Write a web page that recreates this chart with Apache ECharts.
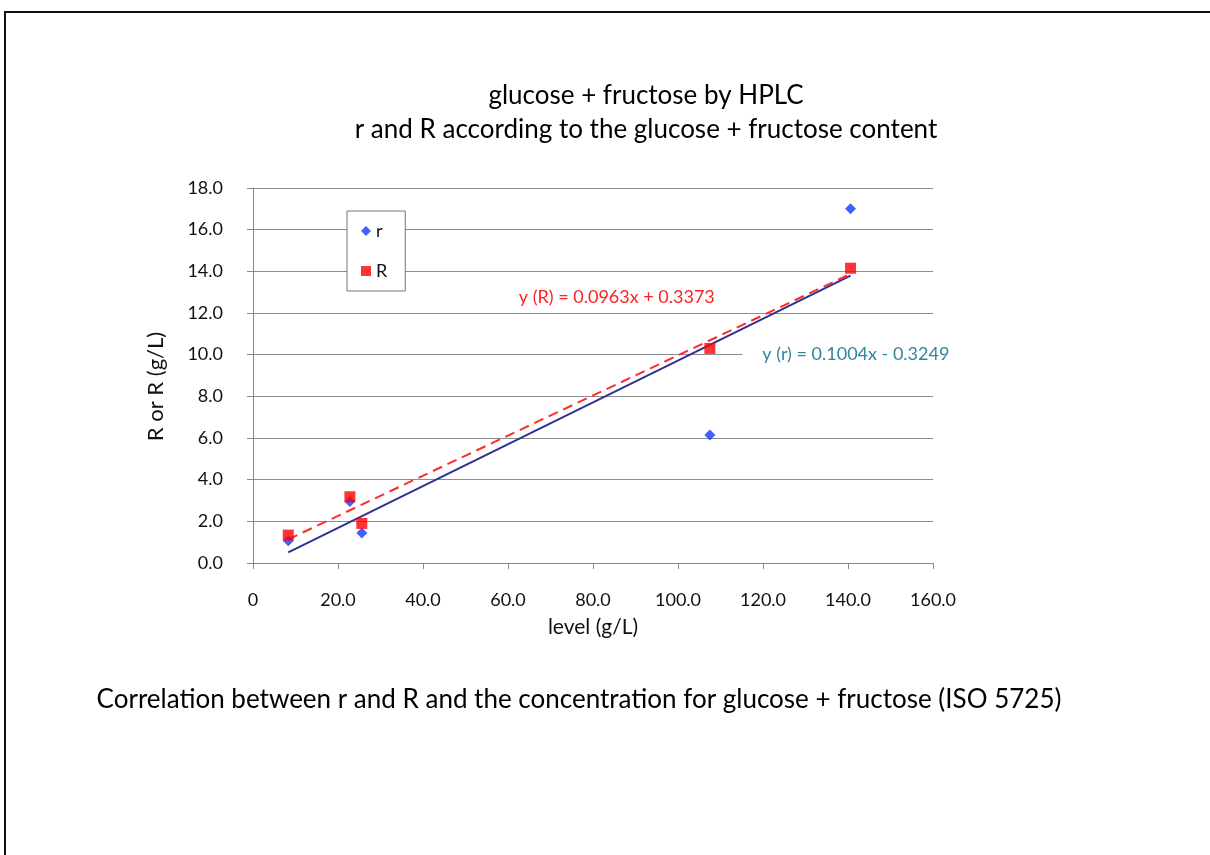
<!DOCTYPE html>
<html>
<head>
<meta charset="utf-8">
<script src="https://cdn.jsdelivr.net/npm/echarts@6/dist/echarts.min.js"></script>
<style>
  html, body { margin: 0; padding: 0; background: #fff; }
  #main { width: 1210px; height: 855px; }
</style>
</head>
<body>
<div id="main"></div>
<script>
// level (g/L) of each test material
var levels = [8.3, 22.8, 25.6, 107.5, 140.6];
// repeatability limit r and reproducibility limit R (g/L)
var rValues = [1.07, 2.95, 1.44, 6.14, 17.0];
var RValues = [1.34, 3.18, 1.90, 10.30, 14.15];
// linear fits [slope, intercept]
var rFit = [0.1004, -0.3249];
var RFit = [0.0963, 0.3373];
var rFitText = "y (r) = 0.1004x - 0.3249";
var RFitText = "y (R) = 0.0963x + 0.3373";
var titleLines = ["glucose + fructose by HPLC", "r and R according to the glucose + fructose content"];
var caption = "Correlation between r and R and the concentration for glucose + fructose (ISO 5725)";

var FONT = "Lato, 'Open Sans', sans-serif";

function pairs(xs, ys) {
    return xs.map(function (x, i) { return [x, ys[i]] });
}
function fitLine(fit) {
    var lo = Math.min.apply(null, levels),
        hi = Math.max.apply(null, levels);
    return [[lo, fit[0] * lo + fit[1]], [hi, fit[0] * hi + fit[1]]];
}

var chart = echarts.init(document.getElementById("main"));
chart.setOption({
    animation: false,
    textStyle: { fontFamily: FONT },
    graphic: [{
        type: "polyline",
        shape: { points: [[5, 855], [5, 12], [1210, 12]] },
        style: { stroke: "#111", lineWidth: 2, fill: null }
    }, {
        type: "text",
        x: 646, y: 96,
        style: { text: titleLines[0], font: "26px " + FONT, fill: "#000", align: "center", verticalAlign: "middle" }
    }, {
        type: "text",
        x: 646, y: 130,
        style: { text: titleLines[1], font: "26px " + FONT, fill: "#000", align: "center", verticalAlign: "middle" }
    }, {
        type: "text",
        x: 579, y: 700,
        style: { text: caption, font: "26px " + FONT, fill: "#000", align: "center", verticalAlign: "middle" }
    }],
    legend: {
        data: ["r", "R"],
        orient: "vertical",
        left: 347,
        top: 211,
        itemGap: 22,
        itemWidth: 10,
        itemHeight: 10,
        padding: [11, 18, 11, 14],
        borderColor: "#777",
        borderWidth: 1,
        backgroundColor: "#fff",
        textStyle: { fontSize: 18, color: "#111", fontFamily: FONT }
    },
    grid: { left: 253, right: 277, top: 188, bottom: 292, containLabel: false },
    xAxis: {
        type: "value",
        min: 0, max: 160, interval: 20,
        name: "level (g/L)",
        nameLocation: "middle",
        nameGap: 54,
        nameTextStyle: { fontSize: 21, color: "#111" },
        axisLine: { show: true, lineStyle: { color: "#888" } },
        axisTick: { show: true, length: 6, lineStyle: { color: "#888" } },
        splitLine: { show: false },
        axisLabel: {
            fontSize: 18, color: "#111", margin: 28,
            formatter: function (v) { return v === 0 ? "0" : v.toFixed(1) }
        }
    },
    yAxis: {
        type: "value",
        min: 0, max: 18, interval: 2,
        name: "R or R (g/L)",
        nameLocation: "middle",
        nameGap: 86,
        nameTextStyle: { fontSize: 22, color: "#111", padding: [0, 0, 0, -22] },
        axisLine: { show: true, lineStyle: { color: "#888" } },
        axisTick: { show: true, length: 6, lineStyle: { color: "#888" } },
        splitLine: { show: true, lineStyle: { color: "#8c8c8c", width: 1 } },
        axisLabel: {
            fontSize: 18, color: "#111", margin: 30,
            formatter: function (v) { return v.toFixed(1) }
        }
    },
    series: [{
        name: "r fit",
        type: "line",
        data: fitLine(rFit),
        symbol: "none",
        z: 2,
        lineStyle: { color: "#2E3192", width: 2 },
        markPoint: {
            symbol: "rect",
            symbolSize: 1,
            itemStyle: { color: "transparent" },
            data: [{ coord: [140.2, 10.03] }],
            label: {
                show: true,
                formatter: rFitText,
                color: "#31859C",
                fontSize: 18,
                fontFamily: FONT,
                backgroundColor: "#fff",
                padding: [6, 6, 6, 20],
                position: "inside"
            }
        }
    }, {
        name: "R fit",
        type: "line",
        data: fitLine(RFit),
        symbol: "none",
        z: 2,
        lineStyle: { color: "#FF2A2A", width: 2, type: [10, 6] },
        markPoint: {
            symbol: "rect",
            symbolSize: 1,
            itemStyle: { color: "transparent" },
            data: [{ coord: [85.6, 12.77] }],
            label: {
                show: true,
                formatter: RFitText,
                color: "#FF1F1F",
                fontSize: 18,
                fontFamily: FONT,
                position: "inside"
            }
        }
    }, {
        name: "r",
        type: "scatter",
        data: pairs(levels, rValues),
        symbol: "diamond",
        symbolSize: 11,
        z: 3,
        itemStyle: { color: "#1437FF" }
    }, {
        name: "R",
        type: "scatter",
        data: pairs(levels, RValues),
        symbol: "rect",
        symbolSize: 11,
        z: 4,
        itemStyle: { color: "#FF0000" }
    }]
});
</script>
</body>
</html>
